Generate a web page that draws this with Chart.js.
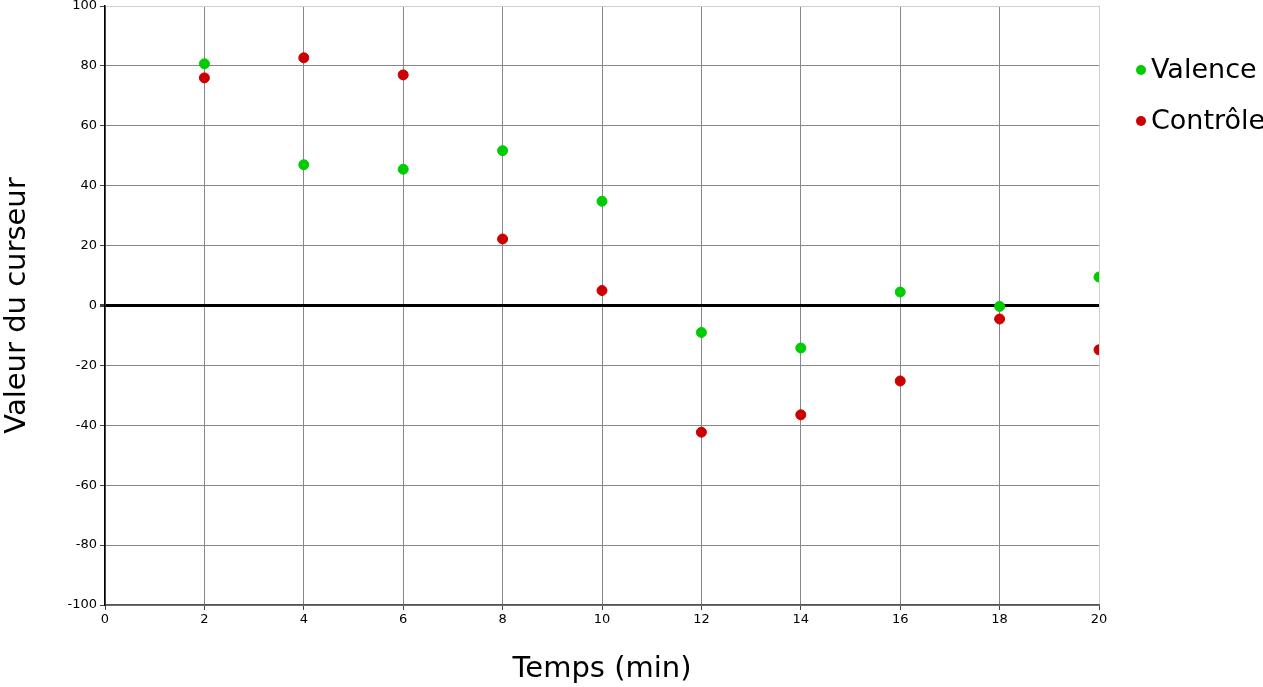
<!DOCTYPE html>
<html>
<head>
<meta charset="utf-8">
<script src="https://cdn.jsdelivr.net/npm/chart.js@4"></script>
<style>
  html, body { margin: 0; padding: 0; background: #fff; }
  #wrap { width: 1263px; height: 687px; }
</style>
</head>
<body>
<div id="wrap"><canvas id="c"></canvas></div>
<script>
// données
const temps = [2, 4, 6, 8, 10, 12, 14, 16, 18, 20];
const valence = [80.7, 47, 45.5, 51.7, 34.8, -9, -14.2, 4.5, -0.3, 9.5];
const controle = [76, 82.7, 77, 22.2, 5, -42.3, -36.5, -25.2, -4.5, -14.8];

const xMin = 0, xMax = 20, xStep = 2;
const yMin = -100, yMax = 100, yStep = 20;

function toPoints(ys) {
  return temps.map((t, i) => ({ x: t, y: ys[i] }));
}

// légende à droite, dessinée à partir des datasets
const sideLegend = {
  id: "sideLegend",
  afterDraw(chart) {
    const c = chart.ctx;
    const x0 = chart.chartArea.right + 42;
    c.save();
    c.font = "27px 'DejaVu Sans', sans-serif";
    c.textBaseline = "middle";
    c.textAlign = "left";
    chart.data.datasets.forEach((ds, i) => {
      const y = 70 + i * 51;
      c.beginPath();
      c.arc(x0, y, 5, 0, Math.PI * 2);
      c.fillStyle = ds.backgroundColor;
      c.fill();
      c.fillStyle = "#000";
      c.fillText(ds.label, x0 + 10, y + 1);
    });
    c.restore();
  },
};

Chart.defaults.font.family = "'DejaVu Sans', sans-serif";
Chart.defaults.color = "#000";

const ctx = document.getElementById("c").getContext("2d");
new Chart(ctx, {
  type: "scatter",
  data: {
    datasets: [
      {
        label: "Valence",
        data: toPoints(valence),
        backgroundColor: "#00cc00",
        borderColor: "#00cc00",
        pointRadius: 5,
        pointHoverRadius: 5,
      },
      {
        label: "Contrôle",
        data: toPoints(controle),
        backgroundColor: "#cc0000",
        borderColor: "#cc0000",
        pointRadius: 5,
        pointHoverRadius: 5,
      },
    ],
  },
  plugins: [sideLegend],
  options: {
    responsive: true,
    maintainAspectRatio: false,
    animation: false,
    layout: { padding: { top: 5, left: 0, right: 164, bottom: 0 } },
    scales: {
      x: {
        type: "linear",
        min: xMin,
        max: xMax,
        ticks: { stepSize: xStep, font: { size: 13 }, padding: 2, color: "#000" },
        grid: {
          color: (c) => (c.tick && c.tick.value === xMax ? "#d0d0d0" : "#888"),
          lineWidth: 1,
          tickLength: 5,
          tickColor: "#444",
        },
        border: { color: "#555", width: 1.5 },
        title: {
          display: true,
          text: "Temps (min)",
          font: { size: 29 },
          padding: { top: 20, bottom: 0 },
        },
        afterFit: (s) => { s.height = 82; s.paddingLeft = 0; s.paddingRight = 0; },
      },
      y: {
        type: "linear",
        min: yMin,
        max: yMax,
        ticks: { stepSize: yStep, font: { size: 13 }, padding: 3, color: "#000" },
        grid: {
          color: (c) => {
            if (!c.tick) return "#888";
            if (c.tick.value === 0) return "#000";
            if (c.tick.value === yMax) return "#d0d0d0";
            return "#888";
          },
          lineWidth: (c) => (c.tick && c.tick.value === 0 ? 3 : 1),
          tickLength: 5,
          tickColor: "#444",
        },
        border: { color: "#000", width: 1.5 },
        title: {
          display: true,
          text: "Valeur du curseur",
          font: { size: 29 },
          padding: { top: 0, bottom: 5 },
        },
        afterFit: (s) => { s.width = 105; s.paddingTop = 0; s.paddingBottom = 0; },
      },
    },
    plugins: {
      legend: { display: false },
      tooltip: { enabled: true },
    },
  },
});
</script>
</body>
</html>
